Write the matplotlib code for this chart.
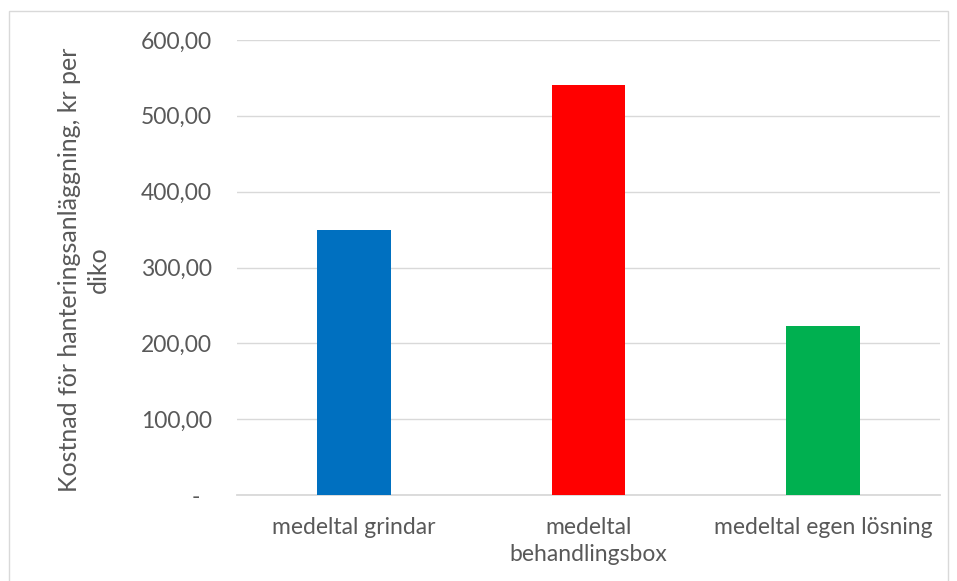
import matplotlib.pyplot as plt
from matplotlib.patches import Rectangle
from matplotlib.ticker import FuncFormatter

categories = ["medeltal grindar", "medeltal\nbehandlingsbox", "medeltal egen lösning"]
costs = [350, 540, 223]
colors = ["#0070C0", "#FF0000", "#00B050"]
yticks = [0, 100, 200, 300, 400, 500, 600]

plt.rcParams['font.family'] = ['Lato', 'DejaVu Sans']
text_color = "#595959"

fig = plt.figure(figsize=(9.57, 5.81), dpi=100)
ax = fig.add_axes([237 / 957, 1 - 495 / 581, 703 / 957, 455 / 581])

# outer chart frame
fig.patches.append(Rectangle((9 / 957, -0.1), 939 / 957, 1.1 - 11 / 581,
                             transform=fig.transFigure, fill=False,
                             edgecolor="#d9d9d9", linewidth=1))

x = range(len(categories))
ax.bar(x, costs, width=0.315, color=colors, zorder=3)

ax.set_xlim(-0.5, 2.5)
ax.set_ylim(0, 600)
ax.set_yticks(yticks)


def fmt(v, pos):
    if v == 0:
        return "-  "
    return f"{v:,.2f}".replace(".", ",")


ax.yaxis.set_major_formatter(FuncFormatter(fmt))
ax.set_xticks(list(x))
ax.set_xticklabels(categories, fontsize=16.5, color=text_color, linespacing=1.35)
ax.tick_params(axis="y", length=0, pad=18, labelsize=16.5, labelcolor=text_color)
ax.tick_params(axis="x", length=0, pad=16)

ax.grid(axis="y", color="#d9d9d9", linewidth=1, zorder=0)
for side in ["top", "right", "left"]:
    ax.spines[side].set_visible(False)
ax.spines["bottom"].set_color("#d9d9d9")
ax.spines["bottom"].set_linewidth(1.3)

fig.text(84 / 957, 1 - 270 / 581, "Kostnad för hanteringsanläggning, kr per\ndiko",
         rotation=90, ha="center", va="center", fontsize=18, color=text_color,
         multialignment="center", linespacing=1.28)

plt.savefig("out.png", dpi=100)
